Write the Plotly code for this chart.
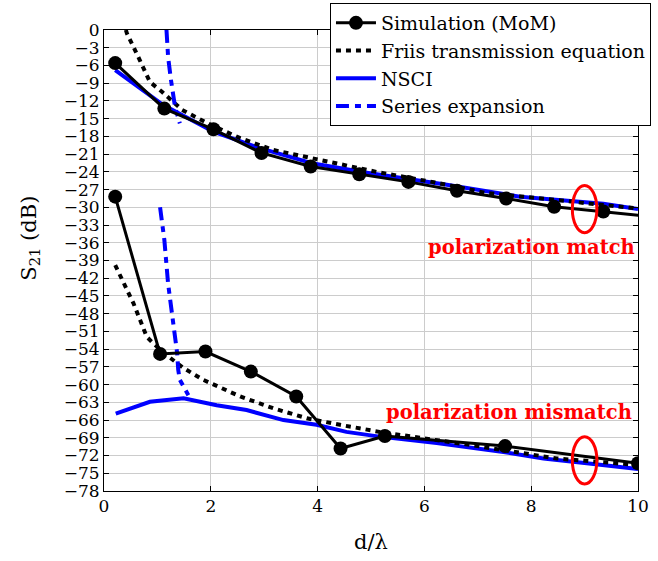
import plotly.graph_objects as go

# ---- polarization match (upper group) ----
d_mom_match = [0.21, 1.13, 2.05, 2.95, 3.87, 4.78, 5.70, 6.61, 7.53, 8.43, 9.35, 10.27]
s_mom_match = [-5.6, -13.3, -16.8, -20.8, -23.1, -24.4, -25.7, -27.2, -28.5, -29.9, -30.7, -31.6]

d_friis_match = [0.41, 0.43, 0.67, 0.86, 1.08, 1.46, 1.92, 2.55, 3.17, 4.17, 5.10, 6.20, 7.17, 8.50, 10.0]
s_friis_match = [0.0, -0.6, -5.1, -8.8, -10.4, -13.5, -15.7, -18.3, -20.3, -22.3, -24.0, -25.8, -27.6, -28.8, -30.2]

d_nsci_match = [0.21, 1.11, 2.05, 2.92, 3.92, 4.95, 6.42, 7.79, 9.35, 10.0]
s_nsci_match = [-6.8, -12.7, -17.2, -20.0, -22.6, -24.2, -26.2, -28.2, -29.4, -30.3]

d_series_match = [1.17, 1.20, 1.25, 1.33, 1.42]
s_series_match = [0.0, -4.5, -8.2, -13.0, -15.8]

# ---- polarization mismatch (lower group) ----
d_mom_mis = [0.21, 1.05, 1.90, 2.75, 3.60, 4.43, 5.26, 7.51, 10.0]
s_mom_mis = [-28.2, -54.8, -54.4, -57.8, -62.0, -70.8, -68.7, -70.4, -73.3]

d_friis_mis = [0.21, 0.55, 0.80, 0.92, 1.17, 1.49, 1.86, 2.55, 3.17, 3.80, 4.42, 5.16, 6.85, 8.48, 10.0]
s_friis_mis = [-39.8, -46.2, -51.9, -53.0, -55.0, -57.2, -59.2, -62.0, -64.0, -65.7, -66.8, -68.0, -70.2, -72.5, -73.6]

d_nsci_mis = [0.22, 0.86, 1.49, 2.11, 2.67, 3.36, 3.98, 4.54, 5.16, 6.23, 7.48, 8.23, 9.04, 10.0]
s_nsci_mis = [-64.9, -62.9, -62.3, -63.5, -64.3, -66.0, -66.8, -68.0, -68.8, -69.9, -71.4, -72.5, -73.3, -74.3]

d_series_mis = [1.05, 1.13, 1.20, 1.27, 1.33, 1.37, 1.39, 1.42, 1.58]
s_series_mis = [-30.0, -35.5, -42.9, -47.9, -51.3, -54.7, -57.5, -59.2, -61.8]

# highlighted region at d/lambda = 9 (center, half-width, half-height)
ellipse_d = 9.0
ellipse_match_s = -30.3
ellipse_mis_s = -72.8
ellipse_hw = 0.23
ellipse_hh = 4.0

y_ticks = list(range(0, -79, -3))
x_ticks = [0, 2, 4, 6, 8, 10]

FONT = "DejaVu Serif"


def join(a, b):
    return a + [None] + b


fig = go.Figure()

fig.add_trace(go.Scatter(
    x=join(d_nsci_match, d_nsci_mis), y=join(s_nsci_match, s_nsci_mis),
    mode="lines", name="NSCI", legendrank=3,
    line=dict(color="#0000ff", width=4)))

fig.add_trace(go.Scatter(
    x=join(d_friis_match, d_friis_mis), y=join(s_friis_match, s_friis_mis),
    mode="lines", name="Friis transmission equation", legendrank=2,
    line=dict(color="black", width=4, dash="5px,5px")))

fig.add_trace(go.Scatter(
    x=join(d_series_match, d_series_mis), y=join(s_series_match, s_series_mis),
    mode="lines", name="Series expansion", legendrank=4,
    line=dict(color="#0000ff", width=4, dash="13px,6px,6px,6px")))

fig.add_trace(go.Scatter(
    x=join(d_mom_match, d_mom_mis), y=join(s_mom_match, s_mom_mis),
    mode="lines+markers", name="Simulation (MoM)", legendrank=1,
    line=dict(color="black", width=3),
    marker=dict(color="black", size=14, symbol="circle")))

for yc in (ellipse_match_s, ellipse_mis_s):
    fig.add_shape(type="circle", xref="x", yref="y",
                  x0=ellipse_d - ellipse_hw, x1=ellipse_d + ellipse_hw,
                  y0=yc - ellipse_hh, y1=yc + ellipse_hh,
                  line=dict(color="#ff0000", width=3))

fig.add_annotation(x=10, y=-36.8, xref="x", yref="y", xanchor="right", xshift=-1,
                   text="<b>polarization match</b>", showarrow=False,
                   font=dict(family=FONT, size=19.5, color="#ff0000"))
fig.add_annotation(x=10, y=-64.7, xref="x", yref="y", xanchor="right", xshift=-4,
                   text="<b>polarization mismatch</b>", showarrow=False,
                   font=dict(family=FONT, size=19.5, color="#ff0000"))

# y-axis label, placed as a rotated annotation
fig.add_annotation(x=-0.139, y=0.549, xref="paper", yref="paper",
                   xanchor="center", yanchor="middle", textangle=-90,
                   text="S<sub>21</sub> (dB)", showarrow=False,
                   font=dict(family=FONT, size=21, color="black"))

axis_common = dict(
    showline=True, linecolor="black", linewidth=1, mirror="allticks",
    ticks="inside", ticklen=5, tickcolor="black",
    showgrid=True, gridcolor="#cccccc", gridwidth=1, zeroline=False,
    tickfont=dict(family=FONT, size=17, color="black"),
)

fig.update_xaxes(range=[0, 10], tickvals=x_ticks,
                 title=dict(text="d/λ", font=dict(family=FONT, size=21, color="black"), standoff=18),
                 **axis_common)
fig.update_yaxes(range=[-78, 0], tickvals=y_ticks, **axis_common)

fig.update_layout(
    width=658, height=561,
    margin=dict(l=104, r=20, t=30, b=70, autoexpand=False),
    paper_bgcolor="white", plot_bgcolor="white",
    showlegend=True,
    legend=dict(x=1.0243, y=1.0586, xanchor="right", yanchor="top",
                bgcolor="white", bordercolor="black", borderwidth=1,
                font=dict(family=FONT, size=19, color="black"),
                itemwidth=40, tracegroupgap=0),
)

fig.write_html("out.html")
